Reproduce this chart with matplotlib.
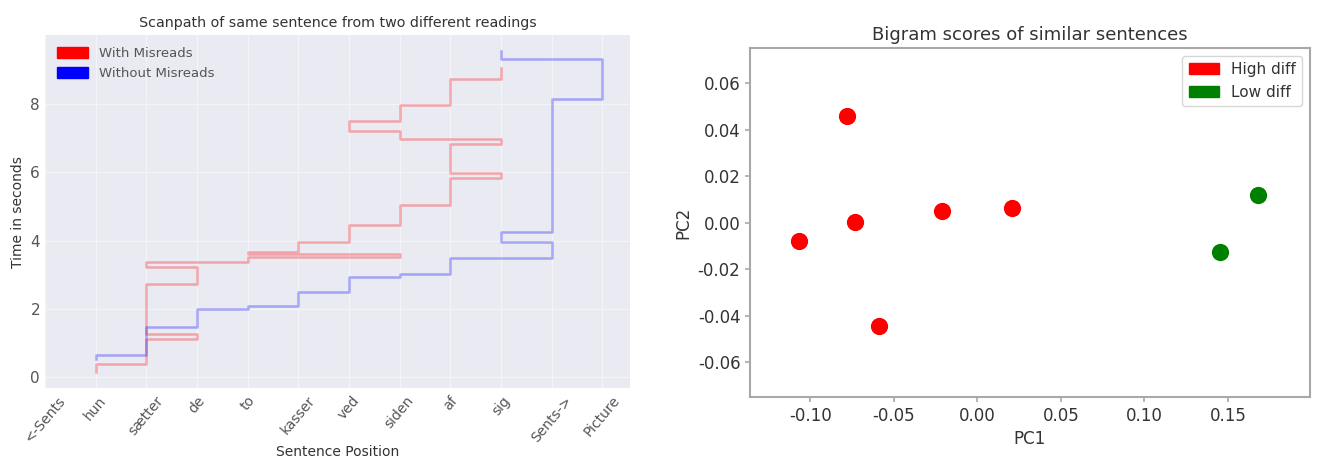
import numpy as np
import matplotlib
matplotlib.use('Agg')
import matplotlib.pyplot as plt
import matplotlib.patches as mpatches

# sentence positions shown on the x axis of the scanpath
words = ["<-Sents", "hun", "sætter", "de", "to", "kasser", "ved", "siden",
         "af", "sig", "Sents->", "Picture"]

# fixated word index and the time boundaries (start of each fixation + final end)
red_pos = [1, 2, 3, 2, 3, 2, 4, 7, 4, 5, 6, 7, 8, 9, 8, 9, 7, 6, 7, 8, 9]
red_times = [0.15, 0.38, 1.12, 1.26, 2.73, 3.24, 3.38, 3.52, 3.62, 3.66, 3.97,
             4.47, 5.03, 5.82, 5.97, 6.82, 6.97, 7.2, 7.5, 7.97, 8.73, 9.05]

blue_pos = [1, 2, 3, 4, 5, 6, 7, 8, 10, 9, 10, 11, 9]
blue_times = [0.52, 0.65, 1.47, 2.0, 2.08, 2.5, 2.94, 3.03, 3.5, 3.97, 4.26,
              8.15, 9.32, 9.55]

# PCA of bigram scores
high_pc1 = [-0.107, -0.078, -0.073, -0.059, -0.021, 0.021]
high_pc2 = [-0.008, 0.046, 0.0004, -0.0445, 0.005, 0.0064]
low_pc1 = [0.1455, 0.168]
low_pc2 = [-0.0128, 0.012]


def scan_xy(pos, times):
    # vertical segment while fixating, horizontal jump at saccade
    x = np.repeat(pos, 2)
    y = np.empty(2 * len(pos))
    y[0::2] = times[:-1]
    y[1::2] = times[1:]
    return x, y


fig = plt.figure(figsize=(13.42, 4.62), dpi=100)

# ---- left: scanpath (seaborn darkgrid look) ----
ax1 = fig.add_axes([0.0335, 0.160, 0.436, 0.764])
ax1.set_facecolor('#EAEAF2')
for s in ax1.spines.values():
    s.set_visible(False)
ax1.grid(True, color='#f4f4f8', linewidth=0.9)
ax1.set_axisbelow(True)

rx, ry = scan_xy(red_pos, red_times)
bx, by = scan_xy(blue_pos, blue_times)
ax1.plot(rx, ry, color='red', alpha=0.3, linewidth=1.8)
ax1.plot(bx, by, color='blue', alpha=0.3, linewidth=1.8)

ax1.set_xticks(range(len(words)))
ax1.set_xticklabels(words, rotation=50, ha='center', fontsize=10, color='#555555')
ax1.set_yticks([0, 2, 4, 6, 8])
ax1.tick_params(axis='y', labelsize=11, colors='#555555', length=0)
ax1.tick_params(axis='x', length=0, pad=4)
ax1.set_xlim(0, 11.55)
ax1.set_ylim(-0.32, 10.02)
ax1.set_title("Scanpath of same sentence from two different readings",
              fontsize=10.3, color='#333333')
ax1.set_ylabel("Time in seconds", fontsize=10, color='#333333')
ax1.set_xlabel("Sentence Position", fontsize=10, color='#333333', labelpad=0)
ax1.legend(handles=[mpatches.Patch(color='red', label='With Misreads'),
                    mpatches.Patch(color='blue', label='Without Misreads')],
           loc='upper left', frameon=False, fontsize=9.5, labelcolor='#555555',
           handlelength=2.4, handleheight=0.9)

# ---- right: bigram PCA scatter ----
ax2 = fig.add_axes([0.559, 0.1407, 0.417, 0.755])
ax2.scatter(high_pc1, high_pc2, color='red', s=130, zorder=3)
ax2.scatter(low_pc1, low_pc2, color='green', s=130, zorder=3)
for s in ax2.spines.values():
    s.set_color('#a8a8a8')
    s.set_linewidth(1.5)
ax2.tick_params(colors='#a8a8a8', labelcolor='#333333', labelsize=12, width=1.2)
ax2.set_xlim(-0.136, 0.199)
ax2.set_ylim(-0.075, 0.075)
ax2.set_xticks([-0.10, -0.05, 0.00, 0.05, 0.10, 0.15])
ax2.set_yticks([-0.06, -0.04, -0.02, 0.00, 0.02, 0.04, 0.06])
ax2.xaxis.set_major_formatter(matplotlib.ticker.FormatStrFormatter('%.2f'))
ax2.yaxis.set_major_formatter(matplotlib.ticker.FormatStrFormatter('%.2f'))
ax2.set_title("Bigram scores of similar sentences", fontsize=13, color='#333333')
ax2.set_xlabel("PC1", fontsize=12, color='#333333')
ax2.set_ylabel("PC2", fontsize=12, color='#333333')
ax2.legend(handles=[mpatches.Patch(color='red', label='High diff'),
                    mpatches.Patch(color='green', label='Low diff')],
           loc='upper right', fontsize=11, labelcolor='#333333')

fig.savefig("out.png", dpi=100)
